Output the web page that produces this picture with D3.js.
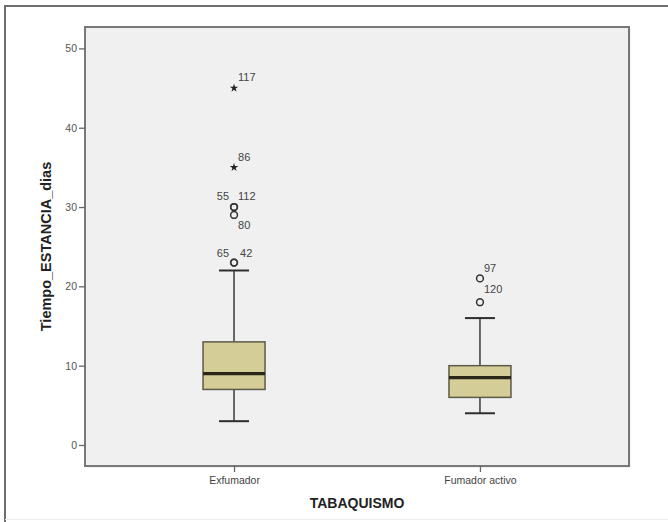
<!DOCTYPE html>
<html>
<head>
<meta charset="utf-8">
<script src="https://cdn.jsdelivr.net/npm/d3@7"></script>
<style>
  body { margin: 0; background: #fff; }
  svg { display: block; font-family: "Liberation Sans", Arial, sans-serif; }
</style>
</head>
<body>
<svg id="chart"></svg>
<script>
// data
const categories = ["Exfumador", "Fumador activo"]
const whiskerLow = [3, 4]
const q1 = [7, 6]
const median = [9, 8.5]
const q3 = [13, 10]
const whiskerHigh = [22, 16]

const outlierCats = ["Exfumador", "Exfumador", "Exfumador", "Exfumador", "Exfumador", "Exfumador", "Exfumador", "Fumador activo", "Fumador activo"]
const outlierValues = [45, 35, 30, 30, 29, 23, 23, 21, 18]
const outlierIds = ["117", "86", "55", "112", "80", "65", "42", "97", "120"]
const outlierKinds = ["extreme", "extreme", "out", "out", "out", "out", "out", "out", "out"]

const yTicks = [0, 10, 20, 30, 40, 50]
const yTitle = "Tiempo_ESTANCIA_dias"
const xTitle = "TABAQUISMO"

const width = 668
const height = 522
const margin = ({top: 27, right: 39, bottom: 56, left: 85})

const svg = d3.select("#chart")
    .attr("width", width)
    .attr("height", height)

// outer frame of the figure
svg.append("path")
    .attr("d", `M5,${height}V6H${width}`)
    .attr("fill", "none")
    .attr("stroke", "#6e6e6e")
    .attr("stroke-width", 2)
svg.append("line")
    .attr("x1", 5).attr("x2", width)
    .attr("y1", height - 2.5).attr("y2", height - 2.5)
    .attr("stroke", "#ececec")

const x = d3.scalePoint()
    .domain(categories)
    .range([margin.left, width - margin.right])
    .padding(0.606)

const y = d3.scaleLinear()
    .domain([-2.65, 52.7])
    .range([height - margin.bottom, margin.top])

// plot area
svg.append("rect")
    .attr("x", margin.left + 1.5)
    .attr("y", margin.top + 1.5)
    .attr("width", width - margin.left - margin.right)
    .attr("height", height - margin.top - margin.bottom)
    .attr("fill", "#e6e6e6")
svg.append("rect")
    .attr("x", margin.left)
    .attr("y", margin.top)
    .attr("width", width - margin.left - margin.right)
    .attr("height", height - margin.top - margin.bottom)
    .attr("fill", "#f0f0f0")
    .attr("stroke", "#787878")
    .attr("stroke-width", 2)

const yAxis = g => g
    .attr("transform", `translate(${margin.left},0)`)
    .call(d3.axisLeft(y).tickValues(yTicks).tickSize(6).tickPadding(2))
    .call(g => g.select(".domain").remove())
    .call(g => g.selectAll(".tick line").attr("stroke", "#666").attr("stroke-width", 1.3))
    .call(g => g.selectAll(".tick text")
        .attr("fill", "#555")
        .attr("font-size", 10.5)
        .attr("font-family", "'Liberation Sans Narrow', 'Liberation Sans', Arial, sans-serif"))

const xAxis = g => g
    .attr("transform", `translate(0,${height - margin.bottom})`)
    .call(d3.axisBottom(x).tickSize(6).tickPadding(5))
    .call(g => g.select(".domain").remove())
    .call(g => g.selectAll(".tick line").attr("stroke", "#666").attr("stroke-width", 1.3))
    .call(g => g.selectAll(".tick text")
        .attr("fill", "#444")
        .attr("font-size", 10.5))

svg.append("g").call(yAxis)
svg.append("g").call(xAxis)

// axis titles
svg.append("text")
    .attr("transform", `translate(51,${(margin.top + height - margin.bottom) / 2}) rotate(-90)`)
    .attr("text-anchor", "middle")
    .attr("font-weight", "bold")
    .attr("font-size", 14.5)
    .attr("fill", "#222")
    .text(yTitle)

svg.append("text")
    .attr("x", (margin.left + width - margin.right) / 2)
    .attr("y", 508)
    .attr("text-anchor", "middle")
    .attr("font-weight", "bold")
    .attr("font-size", 14)
    .attr("fill", "#222")
    .text(xTitle)

// boxes
const boxWidth = 62
const capWidth = 30
const boxes = categories.map((c, i) => ({
  cat: c, lo: whiskerLow[i], q1: q1[i], med: median[i], q3: q3[i], hi: whiskerHigh[i]
}))

const bg = svg.append("g")
    .selectAll("g")
    .data(boxes)
    .join("g")
    .attr("transform", d => `translate(${x(d.cat)},0)`)

bg.append("line")
    .attr("y1", d => y(d.lo)).attr("y2", d => y(d.q1))
    .attr("stroke", "#3a3a3a").attr("stroke-width", 1.5)
bg.append("line")
    .attr("y1", d => y(d.q3)).attr("y2", d => y(d.hi))
    .attr("stroke", "#3a3a3a").attr("stroke-width", 1.5)
bg.append("line")
    .attr("x1", -capWidth / 2).attr("x2", capWidth / 2)
    .attr("y1", d => y(d.lo)).attr("y2", d => y(d.lo))
    .attr("stroke", "#2e2e2e").attr("stroke-width", 2)
bg.append("line")
    .attr("x1", -capWidth / 2).attr("x2", capWidth / 2)
    .attr("y1", d => y(d.hi)).attr("y2", d => y(d.hi))
    .attr("stroke", "#2e2e2e").attr("stroke-width", 2)
bg.append("rect")
    .attr("x", -boxWidth / 2)
    .attr("width", boxWidth)
    .attr("y", d => y(d.q3))
    .attr("height", d => y(d.q1) - y(d.q3))
    .attr("fill", "#d4cd97")
    .attr("stroke", "#5c5a48")
    .attr("stroke-width", 1.5)
bg.append("line")
    .attr("x1", -boxWidth / 2).attr("x2", boxWidth / 2)
    .attr("y1", d => y(d.med)).attr("y2", d => y(d.med))
    .attr("stroke", "#2a2718").attr("stroke-width", 3.2)

// outliers
const outliers = outlierIds.map((id, i) => ({
  id, cat: outlierCats[i], value: outlierValues[i], kind: outlierKinds[i]
}))

// where each case label sits next to its point
const labelPlace = {
  "117": [4, -7, "start"], "86": [4, -6, "start"],
  "55": [-5, -7, "end"], "112": [4, -7, "start"], "80": [4, 14, "start"],
  "65": [-5, -6, "end"], "42": [6, -6, "start"],
  "97": [4, -6, "start"], "120": [4, -9, "start"]
}

const og = svg.append("g")
og.selectAll("circle")
    .data(outliers.filter(d => d.kind === "out"))
    .join("circle")
    .attr("cx", d => x(d.cat))
    .attr("cy", d => y(d.value))
    .attr("r", 3.4)
    .attr("fill", "none")
    .attr("stroke", "#333")
    .attr("stroke-width", 1.5)

og.selectAll("path")
    .data(outliers.filter(d => d.kind === "extreme"))
    .join("path")
    .attr("transform", d => `translate(${x(d.cat)},${y(d.value)})`)
    .attr("d", d3.symbol(d3.symbolStar, 22))
    .attr("fill", "#222")

og.selectAll("text")
    .data(outliers)
    .join("text")
    .attr("x", d => x(d.cat) + labelPlace[d.id][0])
    .attr("y", d => y(d.value) + labelPlace[d.id][1])
    .attr("text-anchor", d => labelPlace[d.id][2])
    .attr("font-size", 11)
    .attr("fill", "#444")
    .text(d => d.id)
</script>
</body>
</html>
